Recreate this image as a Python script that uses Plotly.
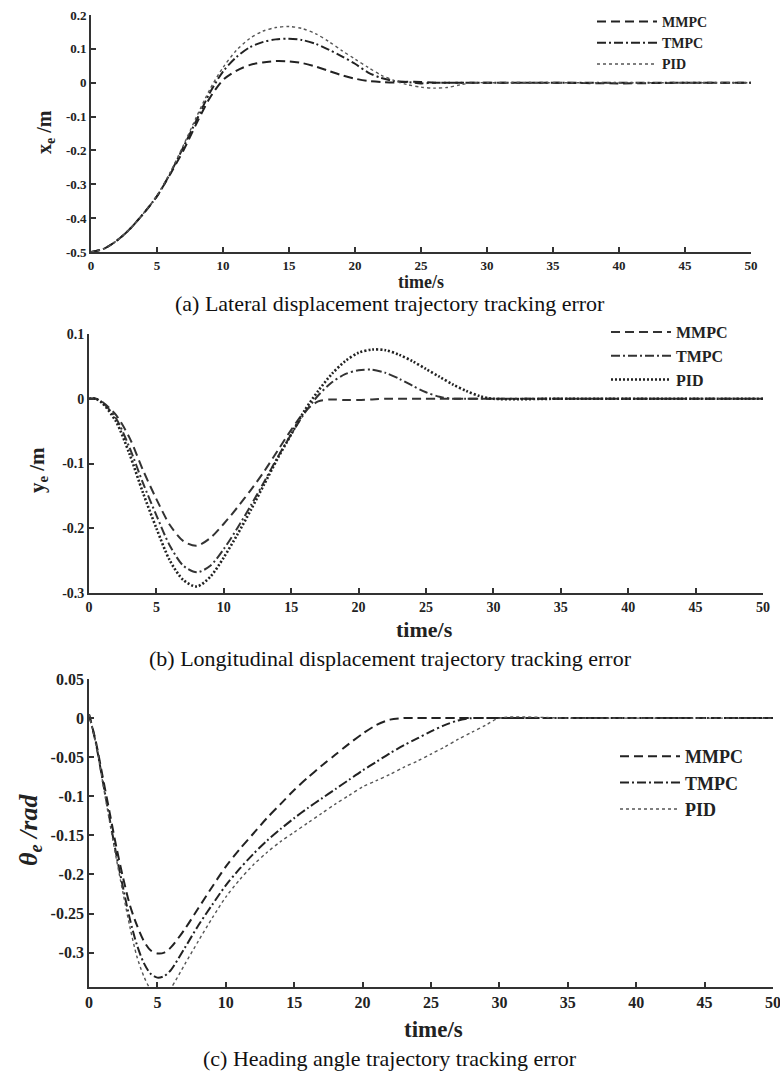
import plotly.graph_objects as go

# ---------------- data ----------------
# (a) lateral displacement error x_e (m)
t_a = [0, 1, 2, 3, 4, 5, 6, 7, 8, 9, 10, 11, 12, 13, 14, 15, 16, 17, 18, 19, 20,
       21, 22, 23, 24, 25, 26, 27, 28, 29, 30, 35, 40, 45, 50]
xa_mmpc = [-0.5, -0.49, -0.465, -0.43, -0.385, -0.335, -0.27, -0.2, -0.12, -0.045, 0.008,
           0.035, 0.052, 0.06, 0.064, 0.063, 0.058, 0.048, 0.035, 0.022, 0.012,
           0.005, 0.002, 0.001, 0.003, 0.002, 0.0, 0.0, 0.0, 0.0, 0.0, 0.0, -0.002, 0.0, 0.0]
xa_tmpc = [-0.5, -0.49, -0.465, -0.43, -0.385, -0.335, -0.268, -0.19, -0.11, -0.03, 0.033,
           0.075, 0.104, 0.12, 0.128, 0.13, 0.126, 0.115, 0.098, 0.078, 0.056,
           0.03, 0.014, 0.005, 0.002, -0.002, 0.0, 0.0, 0.0, 0.0, 0.0, 0.0, 0.0, 0.0, 0.0]
xa_pid = [-0.5, -0.49, -0.465, -0.43, -0.385, -0.333, -0.265, -0.185, -0.1, -0.02, 0.045,
          0.095, 0.13, 0.152, 0.163, 0.166, 0.16, 0.145, 0.122, 0.095, 0.07,
          0.045, 0.022, 0.006, -0.006, -0.013, -0.016, -0.014, -0.006, 0.0, 0.0, 0.0, 0.0, 0.0, 0.0]

# (b) longitudinal displacement error y_e (m)
t_b = [0, 0.5, 1, 2, 3, 4, 5, 6, 7, 8, 9, 10, 11, 12, 13, 14, 15, 16, 17, 18, 19, 20,
       21, 22, 23, 24, 25, 26, 27, 28, 29, 30, 35, 40, 45, 50]
yb_mmpc = [0, 0, -0.005, -0.025, -0.06, -0.11, -0.155, -0.195, -0.22, -0.227, -0.215, -0.193,
           -0.168, -0.141, -0.112, -0.08, -0.048, -0.02, -0.004, -0.001, -0.002, -0.002,
           -0.001, 0, 0, 0, 0, 0, 0, 0, 0, 0, 0, 0, 0, 0]
yb_tmpc = [0, 0, -0.006, -0.03, -0.075, -0.13, -0.18, -0.227, -0.258, -0.268, -0.258, -0.232,
           -0.2, -0.165, -0.128, -0.09, -0.055, -0.022, 0.005, 0.025, 0.038, 0.044,
           0.045, 0.04, 0.031, 0.02, 0.01, 0.003, 0, 0, 0, 0, 0, 0, 0, 0]
yb_pid = [0, 0, -0.007, -0.035, -0.085, -0.145, -0.2, -0.25, -0.28, -0.29, -0.275, -0.245,
          -0.21, -0.172, -0.132, -0.092, -0.055, -0.018, 0.012, 0.038, 0.058, 0.071,
          0.076, 0.075, 0.068, 0.058, 0.046, 0.034, 0.022, 0.012, 0.004, 0, 0, 0, 0, 0]

# (c) heading angle error theta_e (rad)
t_c = [0, 0.5, 1, 1.5, 2, 2.5, 3, 3.5, 4, 4.5, 5, 5.5, 6, 7, 8, 9, 10, 11, 12, 13, 14, 15,
       16, 17, 18, 19, 20, 21, 22, 23, 24, 25, 26, 27, 28, 29, 30, 35, 40, 45, 50]
th_mmpc = [0.005, -0.03, -0.075, -0.12, -0.165, -0.205, -0.24, -0.265, -0.285, -0.297, -0.301,
           -0.3, -0.293, -0.27, -0.243, -0.216, -0.19, -0.168, -0.148, -0.128, -0.11, -0.092,
           -0.076, -0.061, -0.047, -0.033, -0.02, -0.009, -0.002, 0, 0, 0, 0, 0, 0, 0, 0, 0, 0, 0, 0]
th_tmpc = [0.005, -0.032, -0.08, -0.128, -0.175, -0.218, -0.258, -0.29, -0.313, -0.327, -0.332,
           -0.33, -0.322, -0.294, -0.265, -0.239, -0.214, -0.193, -0.174, -0.157, -0.142, -0.128,
           -0.115, -0.103, -0.091, -0.079, -0.067, -0.056, -0.045, -0.035, -0.026, -0.017,
           -0.009, -0.003, 0, 0, 0, 0, 0, 0, 0]
th_pid = [0.005, -0.033, -0.082, -0.132, -0.18, -0.225, -0.268, -0.305, -0.33, -0.347, -0.355,
          -0.354, -0.345, -0.315, -0.285, -0.256, -0.229, -0.207, -0.188, -0.172, -0.158, -0.146,
          -0.134, -0.122, -0.11, -0.099, -0.088, -0.08, -0.072, -0.063, -0.055, -0.046,
          -0.037, -0.027, -0.018, -0.009, 0, 0, 0, 0, 0]

series_names = ["MMPC", "TMPC", "PID"]
x_ticks = [0, 5, 10, 15, 20, 25, 30, 35, 40, 45, 50]
ya_ticks = [0.2, 0.1, 0, -0.1, -0.2, -0.3, -0.4, -0.5]
ya_text = ["0.2", "0.1", "0", "-0.1", "-0.2", "-0.3", "-0.4", "-0.5"]
yb_ticks = [0.1, 0, -0.1, -0.2, -0.3]
yb_text = ["0.1", "0", "-0.1", "-0.2", "-0.3"]
yc_ticks = [0.05, 0, -0.05, -0.1, -0.15, -0.2, -0.25, -0.3]
yc_text = ["0.05", "0", "-0.05", "-0.1", "-0.15", "-0.2", "-0.25", "-0.3"]
captions = ["(a) Lateral displacement trajectory tracking error",
            "(b) Longitudinal displacement trajectory tracking error",
            "(c) Heading angle trajectory tracking error"]

# ---------------- figure ----------------
W, H = 780, 1072
SERIF = "Liberation Serif, Times New Roman, serif"
fig = go.Figure()

styles = [dict(dash="9px,5px", width=2.0, color="#222", smoothing=0.8),
          dict(dash="9px,3px,2px,3px", width=2.0, color="#222", smoothing=0.8),
          dict(dash="dot", width=1.4, color="#555", smoothing=0.8)]
styles_b = [dict(dash="9px,5px", width=2.0, color="#333", smoothing=0.8),
            dict(dash="9px,3px,2px,3px", width=2.0, color="#333", smoothing=0.8),
            dict(dash="2px,2px", width=2.6, color="#222", smoothing=0.8)]

panels = [
    (t_a, [xa_mmpc, xa_tmpc, xa_pid], "x", "y", "legend", styles),
    (t_b, [yb_mmpc, yb_tmpc, yb_pid], "x2", "y2", "legend2", styles_b),
    (t_c, [th_mmpc, th_tmpc, th_pid], "x3", "y3", "legend3", styles),
]
for t, ys, xa, ya, lg, sty in panels:
    for name, y, s in zip(series_names, ys, sty):
        fig.add_trace(go.Scatter(x=t, y=y, name=name, mode="lines", line_shape="spline",
                                 line=s, xaxis=xa, yaxis=ya, legend=lg,
                                 legendgroup=lg + name))

def py(p):
    return 1 - p / H

def tf(size):
    return dict(family=SERIF, size=size, color="#222", weight="bold")

ax_common = dict(showline=True, linewidth=1.8, linecolor="#333", showgrid=False, zeroline=False,
                 ticks="inside", ticklen=5, tickwidth=1.5, tickcolor="#333", mirror=False,
                 automargin=False, ticklabeloverflow="allow")

fig.update_layout(
    template="none",
    width=W, height=H, margin=dict(l=0, r=0, t=0, b=0, autoexpand=False),
    paper_bgcolor="white", plot_bgcolor="white", showlegend=True,
    xaxis=dict(domain=[91 / W, 751 / W], range=[0, 50], tickvals=x_ticks, anchor="y",
               tickfont=tf(13), **ax_common),
    yaxis=dict(domain=[py(252), py(15)], range=[-0.5, 0.2], tickvals=ya_ticks, ticktext=ya_text,
               anchor="x", tickfont=tf(13), **ax_common),
    xaxis2=dict(domain=[89 / W, 763 / W], range=[0, 50], tickvals=x_ticks, anchor="y2",
                tickfont=tf(14), **ax_common),
    yaxis2=dict(domain=[py(593), py(334)], range=[-0.3, 0.1], tickvals=yb_ticks, ticktext=yb_text,
                anchor="x2", tickfont=tf(14), **ax_common),
    xaxis3=dict(domain=[89 / W, 773 / W], range=[0, 50], tickvals=x_ticks, anchor="y3",
                tickfont=tf(16), **ax_common),
    yaxis3=dict(domain=[py(987), py(679)], range=[-0.344, 0.05], tickvals=yc_ticks, ticktext=yc_text,
                anchor="x3", tickfont=tf(16), **ax_common),
)

leg_common = dict(bgcolor="rgba(0,0,0,0)", borderwidth=0, xanchor="left", yanchor="middle",
                  traceorder="grouped", itemwidth=60, tracegroupgap=0)
fig.update_layout(
    legend=dict(x=592 / W, y=py(43), font=tf(14), **leg_common),
    legend2=dict(x=606 / W, y=py(356), font=tf(16), **leg_common),
    legend3=dict(x=615 / W, y=py(783), font=tf(18), **leg_common),
)

ann = []
# x-axis titles
for (xc, yc, sz) in [(421, 282, 18), (425, 629, 22), (433, 1029, 23)]:
    ann.append(dict(text="<b>time/s</b>", x=xc / W, y=py(yc), xref="paper", yref="paper",
                    showarrow=False, font=dict(family=SERIF, size=sz, color="#222"),
                    xanchor="center", yanchor="middle"))
# y-axis titles
for (txt, xc, yc, sz) in [("<b>x<sub>e</sub> /m</b>", 46, 132, 20),
                          ("<b>y<sub>e</sub> /m</b>", 38, 470, 21),
                          ("<b><i>θ<sub>e</sub> /rad</i></b>", 30, 830, 26)]:
    ann.append(dict(text=txt, x=xc / W, y=py(yc), xref="paper", yref="paper", textangle=-90,
                    showarrow=False, font=dict(family=SERIF, size=sz, color="#222"),
                    xanchor="center", yanchor="middle"))
# captions
for (txt, yc) in zip(captions, [304, 658, 1058]):
    ann.append(dict(text=txt, x=390 / W, y=py(yc), xref="paper", yref="paper",
                    showarrow=False, font=dict(family=SERIF, size=22, color="#111"),
                    xanchor="center", yanchor="middle"))
fig.update_layout(annotations=ann)

fig.write_html("out.html", config={"displayModeBar": False},
               post_script="document.body.style.margin='0';document.body.style.overflow='hidden';")
